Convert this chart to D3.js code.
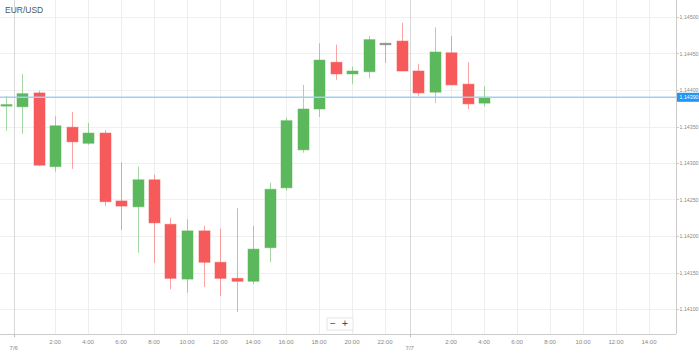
<!DOCTYPE html>
<html><head><meta charset="utf-8">
<script src="https://cdn.jsdelivr.net/npm/d3@7"></script>
<style>body{margin:0;background:#fff;font-family:"Liberation Sans",Arial,sans-serif}</style>
</head><body><svg id="c" width="699" height="353"></svg>
<script>
// hour index from 7/6 0:00
const hours = [-1,0,1,2,3,4,5,6,7,8,9,10,11,12,13,14,15,16,17,18,19,20,21,22,23,24,25,26,27,28];
const opens  = [1.14379,1.14377,1.14396,1.14295,1.14349,1.14327,1.14341,1.14248,1.14240,1.14277,1.14216,1.14141,1.14207,1.14164,1.14142,1.14138,1.14184,1.14266,1.14318,1.14374,1.14438,1.14422,1.14425,1.14464,1.14467,1.14426,1.14397,1.14451,1.14408,1.14382];
const highs  = [1.14392,1.14422,1.14399,1.14364,1.14370,1.14355,1.14345,1.14301,1.14295,1.14284,1.14225,1.14223,1.14214,1.14210,1.14238,1.14214,1.14273,1.14362,1.14407,1.14464,1.14462,1.14432,1.14474,1.14464,1.14492,1.14436,1.14486,1.14474,1.14438,1.14405];
const lows   = [1.14344,1.14340,1.14296,1.14288,1.14292,1.14325,1.14241,1.14208,1.14177,1.14163,1.14127,1.14122,1.14130,1.14118,1.14096,1.14134,1.14164,1.14262,1.14314,1.14363,1.14414,1.14408,1.14416,1.14437,1.14426,1.14392,1.14382,1.14407,1.14374,1.14377];
const closes = [1.14380,1.14395,1.14297,1.14351,1.14329,1.14341,1.14247,1.14241,1.14277,1.14218,1.14142,1.14207,1.14164,1.14142,1.14138,1.14182,1.14264,1.14358,1.14374,1.14441,1.14422,1.14426,1.14469,1.14464,1.14426,1.14396,1.14452,1.14407,1.14381,1.14390];
const priceTicks = [1.141,1.1415,1.142,1.1425,1.143,1.1435,1.144,1.1445,1.145];
const timeTicks = [2,4,6,8,10,12,14,16,18,20,22,26,28,30,32,34,36,38];
const timeLabels = ["2:00","4:00","6:00","8:00","10:00","12:00","14:00","16:00","18:00","20:00","22:00","2:00","4:00","6:00","8:00","10:00","12:00","14:00"];
const dayMarks = [-0.5, 23.5];
const dayLabels = ["7/6","7/7"];
const symbol = "EUR/USD";
const lastPrice = 1.14390;

const W = 676, H = 334;
const svg = d3.select("#c");
const x = d3.scaleLinear().domain([0,38]).range([22,649]);
const y = d3.scaleLinear().domain([1.141,1.145]).range([309,17]);
const UP = "#5cb85c", DN = "#f65a5a", FLAT = "#888";

// grid
svg.append("g").selectAll("line").data(priceTicks).join("line")
  .attr("x1",0).attr("x2",W).attr("y1",d=>Math.round(y(d))+0.5).attr("y2",d=>Math.round(y(d))+0.5)
  .attr("stroke","#f0f0f0");
svg.append("g").selectAll("line").data(timeTicks).join("line")
  .attr("x1",d=>Math.round(x(d))+0.5).attr("x2",d=>Math.round(x(d))+0.5).attr("y1",0).attr("y2",H)
  .attr("stroke","#eeeeee");
svg.append("g").selectAll("line").data(dayMarks).join("line")
  .attr("x1",d=>Math.round(x(d))+0.5).attr("x2",d=>Math.round(x(d))+0.5).attr("y1",0).attr("y2",H)
  .attr("stroke","#d8d8d8");

// candles
const data = hours.map((h,i)=>({h,o:opens[i],hi:highs[i],lo:lows[i],c:closes[i]}));
const col = d => d.c>d.o?UP:(d.c<d.o?DN:FLAT);
const cg = svg.append("g");
cg.selectAll("line").data(data).join("line")
  .attr("x1",d=>Math.round(x(d.h))+0.5).attr("x2",d=>Math.round(x(d.h))+0.5)
  .attr("y1",d=>y(d.hi)).attr("y2",d=>y(d.lo))
  .attr("stroke",col).attr("stroke-opacity",0.55);
cg.selectAll("rect").data(data).join("rect")
  .attr("x",d=>Math.round(x(d.h))-5).attr("width",11)
  .attr("y",d=>y(Math.max(d.o,d.c)))
  .attr("height",d=>Math.max(1.5,Math.abs(y(d.o)-y(d.c))))
  .attr("fill",col).attr("stroke",col).attr("stroke-opacity",0.5).attr("stroke-width",1);

// current price line
svg.append("line").attr("x1",0).attr("x2",W).attr("y1",y(lastPrice)).attr("y2",y(lastPrice))
  .attr("stroke","#9fd0f0").attr("stroke-width",1.5);

// axes
svg.append("line").attr("x1",W+0.5).attr("x2",W+0.5).attr("y1",0).attr("y2",H).attr("stroke","#cccccc");
svg.append("line").attr("x1",0).attr("x2",W).attr("y1",H+0.5).attr("y2",H+0.5).attr("stroke","#cccccc");
const ya = svg.append("g");
ya.selectAll("line").data(priceTicks).join("line")
  .attr("x1",W).attr("x2",W+3).attr("y1",d=>Math.round(y(d))+0.5).attr("y2",d=>Math.round(y(d))+0.5).attr("stroke","#ccc");
ya.selectAll("text").data(priceTicks).join("text")
  .attr("x",W+3.5).attr("y",d=>y(d)+2).attr("font-size",5.4).attr("fill","#888")
  .attr("textLength",19).attr("lengthAdjust","spacingAndGlyphs")
  .text(d=>d.toFixed(5));
const xa = svg.append("g");
xa.selectAll("text").data(timeTicks).join("text")
  .attr("x",d=>x(d)).attr("y",344).attr("text-anchor","middle").attr("font-size",6).attr("fill","#888")
  .text((d,i)=>timeLabels[i]);
xa.selectAll("line").data(dayMarks).join("line")
  .attr("x1",d=>Math.round(x(d))+0.5).attr("x2",d=>Math.round(x(d))+0.5).attr("y1",H).attr("y2",H+3).attr("stroke","#bbb");
xa.selectAll("text.day").data(dayMarks).join("text").attr("class","day")
  .attr("x",d=>x(d)).attr("y",350).attr("text-anchor","middle").attr("font-size",6).attr("fill","#888")
  .text((d,i)=>dayLabels[i]);

// price label
const py = y(lastPrice);
svg.append("rect").attr("x",W+1).attr("y",py-4.5).attr("width",22).attr("height",9).attr("fill","#2196f3");
svg.append("text").attr("x",W+3.5).attr("y",py+2).attr("font-size",5.4).attr("fill","#fff")
  .attr("textLength",19).attr("lengthAdjust","spacingAndGlyphs").text(lastPrice.toFixed(5));

// title
svg.append("text").attr("x",5).attr("y",13).attr("font-size",8.5).attr("fill","#555").text(symbol);

// zoom buttons
const zb = svg.append("g");
zb.append("rect").attr("x",327).attr("y",318).attr("width",26).attr("height",12).attr("fill","#fff").attr("stroke","#e6e6e6");
zb.append("text").attr("x",333).attr("y",327).attr("font-size",10).attr("fill","#444").attr("text-anchor","middle").text("−");
zb.append("text").attr("x",345).attr("y",327).attr("font-size",10).attr("fill","#444").attr("text-anchor","middle").text("+");
</script></body></html>
